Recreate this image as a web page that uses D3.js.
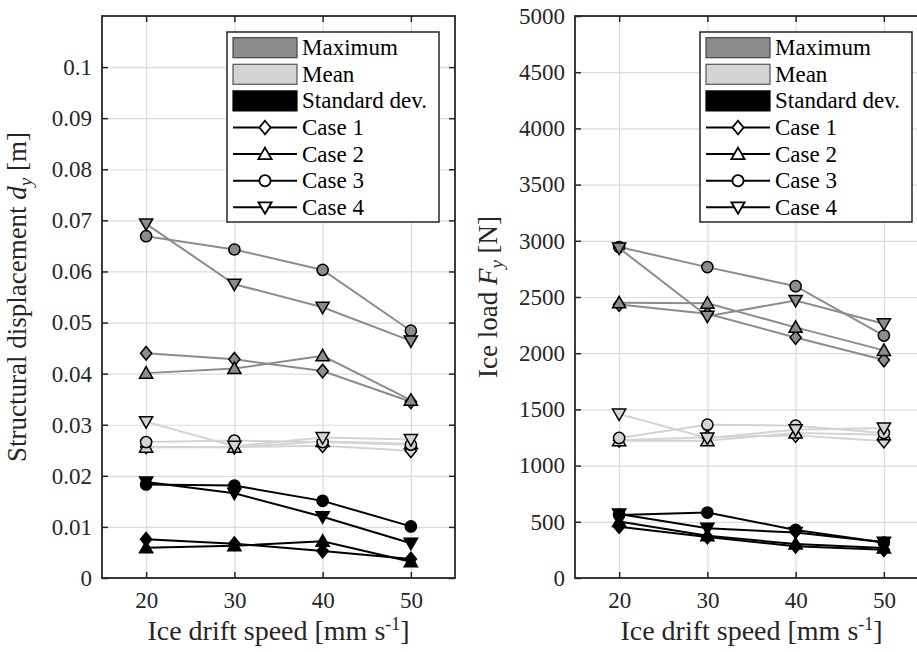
<!DOCTYPE html>
<html>
<head>
<meta charset="utf-8">
<script src="https://cdn.jsdelivr.net/npm/d3@7"></script>
<style>
  body { margin: 0; background: #fff; }
  svg { font-family: "Liberation Serif", serif; }
</style>
</head>
<body>
<svg id="chart" width="917" height="652"></svg>
<script>
// ice drift speeds on the x axis
var speeds = [20, 30, 40, 50];
var caseNames = ["Case 1", "Case 2", "Case 3", "Case 4"];
var caseMarkers = ["diamond", "up", "circle", "down"];

// structural displacement d_y [m], one row per case
var dispMax  = [[0.0440, 0.0428, 0.0405, 0.0345],
                [0.0401, 0.0410, 0.0435, 0.0348],
                [0.0669, 0.0643, 0.0603, 0.0484],
                [0.0693, 0.0575, 0.0530, 0.0464]];
var dispMean = [[0.0257, 0.0256, 0.0259, 0.0249],
                [0.0256, 0.0256, 0.0267, 0.0263],
                [0.0266, 0.0269, 0.0266, 0.0261],
                [0.0306, 0.0258, 0.0275, 0.0271]];
var dispStd  = [[0.0076, 0.0067, 0.0053, 0.0037],
                [0.0059, 0.0063, 0.0072, 0.0032],
                [0.0183, 0.0181, 0.0151, 0.0101],
                [0.0188, 0.0166, 0.0120, 0.0068]];

// ice load F_y [N], one row per case
var loadMax  = [[2433, 2350, 2140, 1940],
                [2448, 2445, 2230, 2025],
                [2945, 2766, 2596, 2157],
                [2935, 2329, 2469, 2262]];
var loadMean = [[1225, 1252, 1268, 1218],
                [1222, 1222, 1290, 1275],
                [1246, 1364, 1355, 1290],
                [1459, 1245, 1320, 1334]];
var loadStd  = [[ 457,  365,  282,  252],
                [ 502,  376,  302,  266],
                [ 561,  582,  428,  315],
                [ 570,  443,  404,  318]];

var dispTicks = [0, 0.01, 0.02, 0.03, 0.04, 0.05, 0.06, 0.07, 0.08, 0.09, 0.1];
var loadTicks = [0, 500, 1000, 1500, 2000, 2500, 3000, 3500, 4000, 4500, 5000];

var svg = d3.select("#chart");
svg.append("rect").attr("width", 917).attr("height", 652).style("fill", "#fff");

var plotTop = 16, plotBottom = 578, plotW = 353;
var styles = {
    max:  { line: "#8c8c8c", fill: "#8c8c8c" },
    mean: { line: "#d4d4d4", fill: "#d4d4d4" },
    std:  { line: "#000",    fill: "#000" }
};

function markerPath(type) {
    if (type == "diamond") return "M0,-6.8L5.6,0L0,6.8L-5.6,0Z";
    if (type == "up") return "M0,-6.5L6.6,5L-6.6,5Z";
    if (type == "down") return "M0,6.5L6.6,-5L-6.6,-5Z";
    return d3.symbol().type(d3.symbolCircle).size(Math.PI * 5.6 * 5.6)();
}

function panel(left, yMax, yTicks, fmt, series, yTitle, titleX) {
    var x = d3.scaleLinear().domain([15, 55]).range([left, left + plotW]);
    var y = d3.scaleLinear().domain([0, yMax]).range([plotBottom, plotTop]);
    var g = svg.append("g");

    // grid
    g.append("g").attr("transform", "translate(0," + plotBottom + ")")
	.call(d3.axisBottom(x).tickValues(speeds).tickSize(-(plotBottom - plotTop)).tickFormat(""))
	.call(function (a) { a.select(".domain").remove(); })
	.selectAll("line").style("stroke", "#dcdcdc").style("stroke-width", 1.2);
    g.append("g").attr("transform", "translate(" + left + ",0)")
	.call(d3.axisLeft(y).tickValues(yTicks).tickSize(-plotW).tickFormat(""))
	.call(function (a) { a.select(".domain").remove(); })
	.selectAll("line").style("stroke", "#dcdcdc").style("stroke-width", 1.2);

    // data lines and markers
    var line = d3.line().x(function (d, i) { return x(speeds[i]); }).y(function (d) { return y(d); });
    series.forEach(function (s) {
	var st = styles[s.kind];
	s.values.forEach(function (vals, c) {
	    g.append("path").datum(vals).attr("d", line)
		.style("fill", "none").style("stroke", st.line).style("stroke-width", 2);
	    g.selectAll(null).data(vals).enter().append("path")
		.attr("d", markerPath(caseMarkers[c]))
		.attr("transform", function (d, i) { return "translate(" + x(speeds[i]) + "," + y(d) + ")"; })
		.style("fill", st.fill).style("stroke", "#000").style("stroke-width", 1.5);
	});
    });

    // axes
    function styleAxis(a) {
	a.select(".domain").remove();
	a.selectAll("line").style("stroke", "#262626").style("stroke-width", 1.5);
	a.selectAll("text").style("font-family", "Liberation Serif").style("font-size", "23px").style("fill", "#262626");
    }
    g.append("g").attr("transform", "translate(0," + plotBottom + ")")
	.call(d3.axisBottom(x).tickValues(speeds).tickSize(-6).tickPadding(14)).call(styleAxis);
    g.append("g").attr("transform", "translate(0," + plotTop + ")")
	.call(d3.axisTop(x).tickValues(speeds).tickSize(-6).tickFormat("")).call(styleAxis);
    g.append("g").attr("transform", "translate(" + left + ",0)")
	.call(d3.axisLeft(y).tickValues(yTicks).tickSize(-6).tickPadding(10).tickFormat(fmt)).call(styleAxis);
    g.append("g").attr("transform", "translate(" + (left + plotW) + ",0)")
	.call(d3.axisRight(y).tickValues(yTicks).tickSize(-6).tickFormat("")).call(styleAxis);
    g.append("rect").attr("x", left).attr("y", plotTop).attr("width", plotW).attr("height", plotBottom - plotTop)
	.style("fill", "none").style("stroke", "#262626").style("stroke-width", 1.8);

    // axis titles
    var xt = g.append("text").attr("x", left + plotW / 2).attr("y", 640)
	.attr("text-anchor", "middle").style("font-size", "28px").style("fill", "#262626");
    xt.append("tspan").text("Ice drift speed [mm s");
    xt.append("tspan").attr("dy", -10).style("font-size", "18px").text("-1");
    xt.append("tspan").attr("dy", 10).text("]");

    var yt = g.append("text").attr("transform", "translate(" + titleX + "," + ((plotTop + plotBottom) / 2) + ") rotate(-90)")
	.attr("text-anchor", "middle").style("font-size", "27px").style("fill", "#262626");
    yt.append("tspan").text(yTitle[0]);
    yt.append("tspan").style("font-style", "italic").text(yTitle[1]);
    yt.append("tspan").attr("dy", 6).style("font-style", "italic").style("font-size", "19px").text("y");
    yt.append("tspan").attr("dy", -6).text(" [" + yTitle[2] + "]");

    // legend
    var lx = left + plotW - 16 - 212, ly = 32;
    var lg = g.append("g");
    lg.append("rect").attr("x", lx).attr("y", ly).attr("width", 212).attr("height", 190)
	.style("fill", "#fff").style("stroke", "#262626").style("stroke-width", 1.5);
    var patches = [["Maximum", "#8c8c8c", "#444"], ["Mean", "#d4d4d4", "#555"], ["Standard dev.", "#000", "#000"]];
    patches.forEach(function (p, i) {
	var cy = ly + 15.7 + i * 26.6;
	lg.append("rect").attr("x", lx + 6).attr("y", cy - 10).attr("width", 64).attr("height", 20)
	    .style("fill", p[1]).style("stroke", p[2]).style("stroke-width", 1.2);
	lg.append("text").attr("x", lx + 75).attr("y", cy).attr("dy", "0.33em")
	    .style("font-size", "23px").style("fill", "#000").text(p[0]);
    });
    caseNames.forEach(function (name, i) {
	var cy = ly + 15.7 + (i + 3) * 26.6;
	lg.append("line").attr("x1", lx + 6).attr("x2", lx + 70).attr("y1", cy).attr("y2", cy)
	    .style("stroke", "#000").style("stroke-width", 2);
	lg.append("path").attr("d", markerPath(caseMarkers[i]))
	    .attr("transform", "translate(" + (lx + 38) + "," + cy + ")")
	    .style("fill", "#fff").style("stroke", "#000").style("stroke-width", 1.8);
	lg.append("text").attr("x", lx + 75).attr("y", cy).attr("dy", "0.33em")
	    .style("font-size", "23px").style("fill", "#000").text(name);
    });
}

panel(102, 0.11, dispTicks, function (d) { return d === 0 ? "0" : String(+d.toFixed(2)); },
      [{ kind: "max", values: dispMax }, { kind: "mean", values: dispMean }, { kind: "std", values: dispStd }],
      ["Structural displacement ", "d", "m"], 26);
panel(575, 5000, loadTicks, function (d) { return String(d); },
      [{ kind: "max", values: loadMax }, { kind: "mean", values: loadMean }, { kind: "std", values: loadStd }],
      ["Ice load ", "F", "N"], 497);
</script>
</body>
</html>
